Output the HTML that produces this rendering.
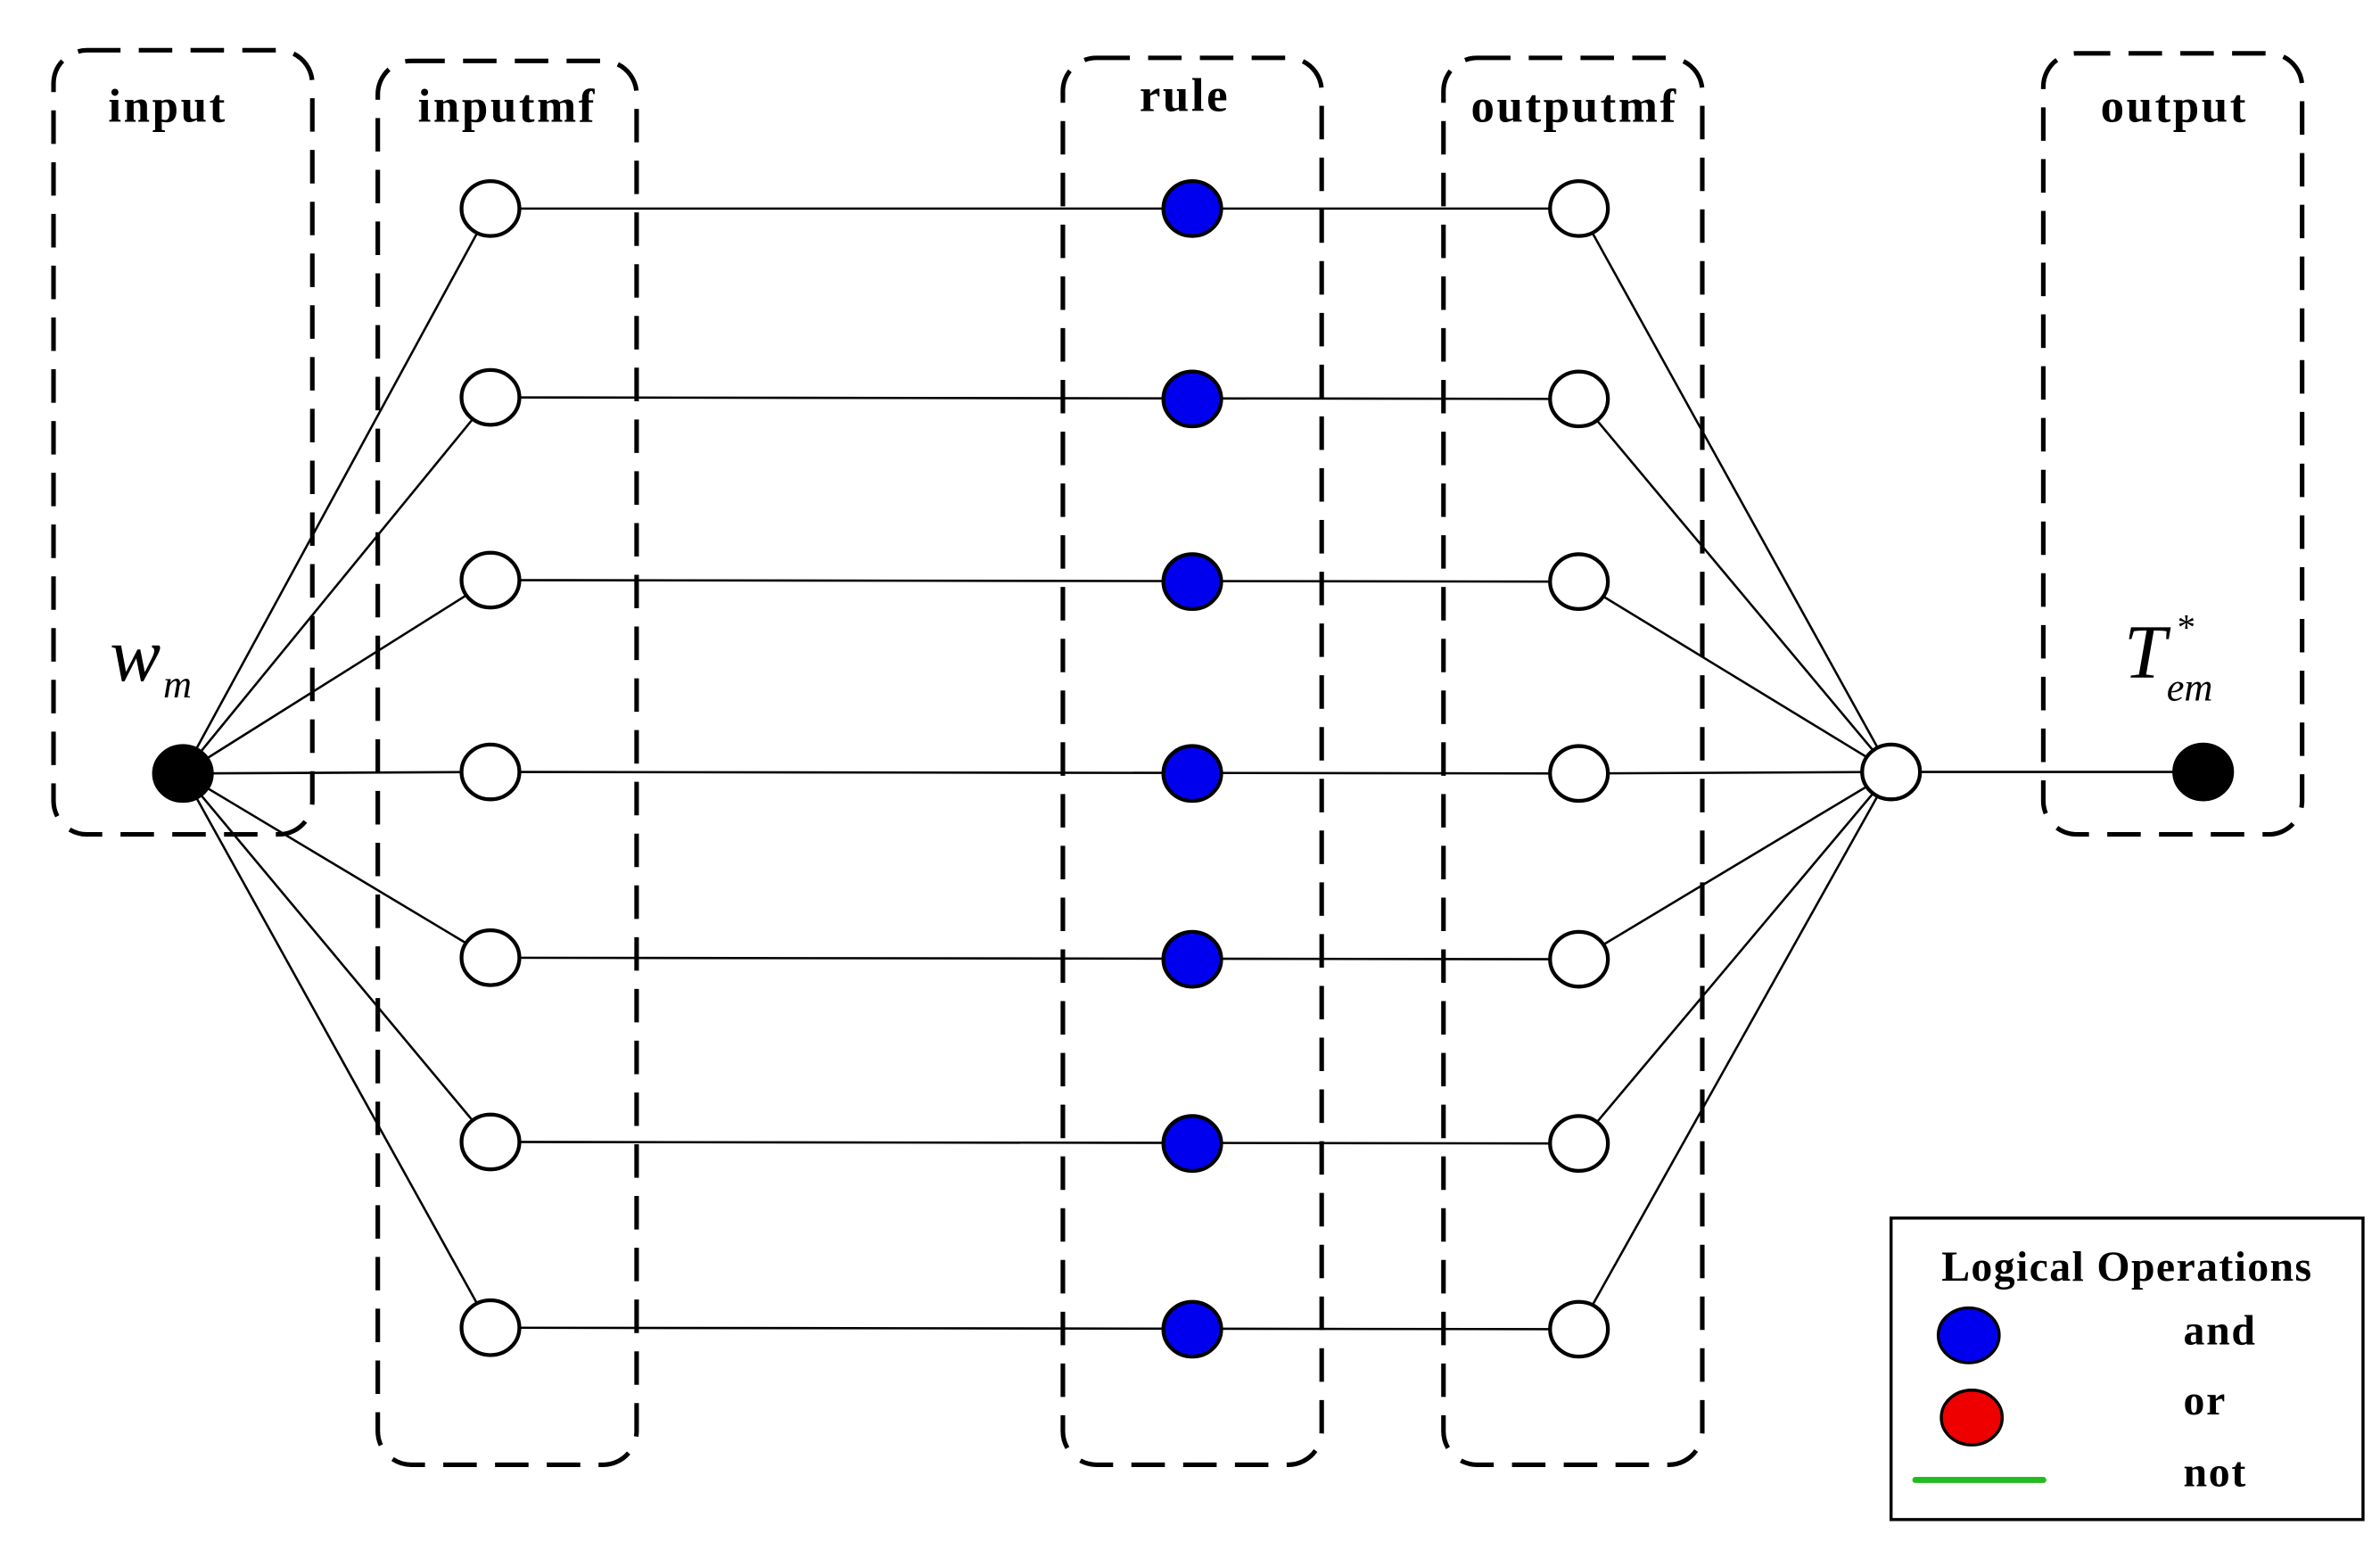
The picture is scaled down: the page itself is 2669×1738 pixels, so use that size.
<!DOCTYPE html>
<html><head><meta charset="utf-8"><style>html,body{margin:0;padding:0;background:#fff}svg{display:block}</style></head>
<body>
<svg width="2669" height="1738" viewBox="0 0 1563 1018" xmlns="http://www.w3.org/2000/svg">
<rect width="1563" height="1018" fill="#fff"/>
<g fill="none" stroke="#000" stroke-width="3" stroke-dasharray="22 12">
<rect x="35" y="33" width="170" height="515" rx="22"/>
<rect x="248" y="40" width="170" height="922" rx="22"/>
<rect x="698" y="38" width="170" height="924" rx="22"/>
<rect x="948" y="38" width="170" height="924" rx="22"/>
<rect x="1342" y="35" width="170" height="513" rx="22"/>
</g>
<g font-family="Liberation Serif, serif" font-weight="bold" font-size="31" text-anchor="middle" fill="#000" letter-spacing="1.5">
<text x="110" y="80">input</text>
<text x="333" y="80">inputmf</text>
<text x="778" y="73">rule</text>
<text x="1034" y="80">outputmf</text>
<text x="1428" y="80">output</text>
</g>
<g stroke="#000" stroke-width="1.5">
<line x1="120" y1="508" x2="322" y2="137"/>
<line x1="120" y1="508" x2="322" y2="261"/>
<line x1="120" y1="508" x2="322" y2="381"/>
<line x1="120" y1="508" x2="322" y2="507"/>
<line x1="120" y1="508" x2="322" y2="629"/>
<line x1="120" y1="508" x2="322" y2="750"/>
<line x1="120" y1="508" x2="322" y2="872"/>
<line x1="322" y1="137" x2="1037" y2="137"/>
<line x1="322" y1="261" x2="1037" y2="262"/>
<line x1="322" y1="381" x2="1037" y2="382"/>
<line x1="322" y1="507" x2="1037" y2="508"/>
<line x1="322" y1="629" x2="1037" y2="630"/>
<line x1="322" y1="750" x2="1037" y2="751"/>
<line x1="322" y1="872" x2="1037" y2="873"/>
<line x1="1037" y1="137" x2="1242" y2="507"/>
<line x1="1037" y1="262" x2="1242" y2="507"/>
<line x1="1037" y1="382" x2="1242" y2="507"/>
<line x1="1037" y1="508" x2="1242" y2="507"/>
<line x1="1037" y1="630" x2="1242" y2="507"/>
<line x1="1037" y1="751" x2="1242" y2="507"/>
<line x1="1037" y1="873" x2="1242" y2="507"/>
<line x1="1242" y1="507" x2="1447" y2="507"/>
</g>
<g stroke="#000" stroke-width="2.5">
<g fill="#fff">
<ellipse cx="322" cy="137" rx="19" ry="18"/><ellipse cx="322" cy="261" rx="19" ry="18"/>
<ellipse cx="322" cy="381" rx="19" ry="18"/><ellipse cx="322" cy="507" rx="19" ry="18"/>
<ellipse cx="322" cy="629" rx="19" ry="18"/><ellipse cx="322" cy="750" rx="19" ry="18"/>
<ellipse cx="322" cy="872" rx="19" ry="18"/>
<ellipse cx="1037" cy="137" rx="19" ry="18"/><ellipse cx="1037" cy="262" rx="19" ry="18"/>
<ellipse cx="1037" cy="382" rx="19" ry="18"/><ellipse cx="1037" cy="508" rx="19" ry="18"/>
<ellipse cx="1037" cy="630" rx="19" ry="18"/><ellipse cx="1037" cy="751" rx="19" ry="18"/>
<ellipse cx="1037" cy="873" rx="19" ry="18"/>
<ellipse cx="1242" cy="507" rx="19" ry="18"/>
</g>
<g fill="#0000ee">
<ellipse cx="783" cy="137" rx="19" ry="18"/><ellipse cx="783" cy="262" rx="19" ry="18"/>
<ellipse cx="783" cy="382" rx="19" ry="18"/><ellipse cx="783" cy="508" rx="19" ry="18"/>
<ellipse cx="783" cy="630" rx="19" ry="18"/><ellipse cx="783" cy="751" rx="19" ry="18"/>
<ellipse cx="783" cy="873" rx="19" ry="18"/>
</g>
<ellipse cx="120" cy="508" rx="19" ry="18" fill="#000"/>
<ellipse cx="1447" cy="507" rx="19" ry="18" fill="#000"/>
</g>
<g font-family="Liberation Serif, serif" font-style="italic" fill="#000">
<text x="72" y="447" font-size="50">w</text>
<text x="107" y="458" font-size="26">m</text>
<text x="1395" y="445" font-size="50">T</text>
<text x="1430" y="420" font-size="24" font-style="normal">*</text>
<text x="1423" y="460" font-size="26">em</text>
</g>
<rect x="1242" y="800" width="310" height="198" fill="#fff" stroke="#000" stroke-width="2"/>
<text x="1397" y="841" font-family="Liberation Serif, serif" font-weight="bold" font-size="28" text-anchor="middle" letter-spacing="0.8">Logical Operations</text>
<ellipse cx="1293" cy="877" rx="20" ry="18" fill="#0000ee" stroke="#000" stroke-width="2"/>
<ellipse cx="1295" cy="931" rx="20" ry="18" fill="#ee0000" stroke="#000" stroke-width="2"/>
<line x1="1258" y1="972" x2="1342" y2="972" stroke="#22bb22" stroke-width="4" stroke-linecap="round"/>
<g font-family="Liberation Serif, serif" font-weight="bold" font-size="28" fill="#000" letter-spacing="1">
<text x="1434" y="883">and</text>
<text x="1434" y="929">or</text>
<text x="1434" y="976">not</text>
</g>
</svg>
</body></html>
